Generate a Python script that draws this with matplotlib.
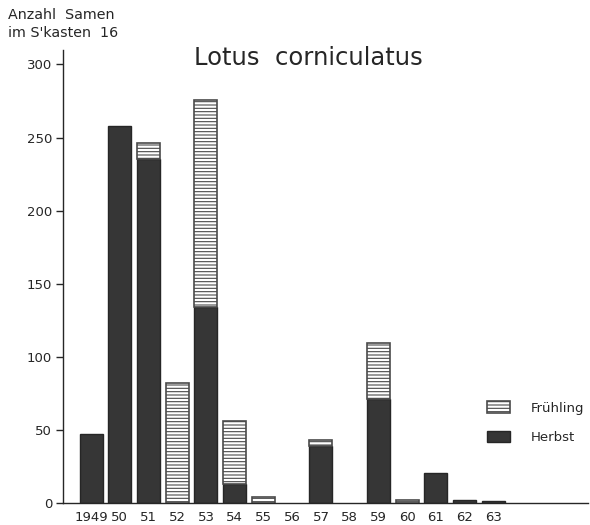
import numpy as np
import matplotlib.pyplot as plt

# values (seeds counted in seed box 16)
years = ["1949", "50", "51", "52", "53", "54", "55", "56", "57", "58", "59", "60", "61", "62", "63"]
herbst = np.array([47, 258, 235, 0, 134, 13, 0, 0, 39, 0, 71, 0, 20, 2, 1])
fruehling = np.array([0, 0, 11, 82, 142, 43, 4, 0, 4, 0, 38, 2, 0, 0, 0])

ink = "#262626"
plt.rcParams["font.family"] = ["DejaVu Sans"]
plt.rcParams["hatch.linewidth"] = 0.8

fig = plt.figure(figsize=(5.9, 5.25), dpi=100)
ax = fig.add_axes([0.107, 0.0425, 0.89, 0.8625])

x = np.arange(len(years))
h = herbst > 0
f = fruehling > 0
ax.bar(x[h], herbst[h], width=0.8, color="#363636", edgecolor=ink, linewidth=1.0, label="Herbst")
ax.bar(x[f], fruehling[f], width=0.8, bottom=herbst[f], color="white", edgecolor="#4a4a4a",
       hatch="-----", linewidth=1.2, label="Frühling")

ax.set_xlim(-0.97, 17.3)
ax.set_ylim(0, 310)
ax.set_yticks([0, 50, 100, 150, 200, 250, 300])
ax.set_xticks(x)
ax.set_xticklabels(years)
ax.tick_params(axis="x", length=0, pad=6, labelsize=9.5, colors=ink)
ax.tick_params(axis="y", length=5, width=1, direction="out", pad=3, labelsize=9.5, colors=ink)

for s in ["top", "right"]:
    ax.spines[s].set_visible(False)
for s in ["left", "bottom"]:
    ax.spines[s].set_color(ink)
    ax.spines[s].set_linewidth(1.0)

fig.text(0.522, 0.89, "Lotus  corniculatus", ha="center", va="center", fontsize=17.5, color=ink)
fig.text(0.014, 0.985, "Anzahl  Samen\nim S'kasten  16", ha="left", va="top",
         fontsize=10.3, color=ink, linespacing=1.35)

handles, labels = ax.get_legend_handles_labels()
ax.legend(handles[::-1], labels[::-1], loc="upper left", bbox_to_anchor=(0.785, 0.25),
          frameon=False, fontsize=9.5, handlelength=1.7, handleheight=1.0,
          labelspacing=1.2, handletextpad=1.6, labelcolor=ink)

fig.savefig("out.png", dpi=100)
